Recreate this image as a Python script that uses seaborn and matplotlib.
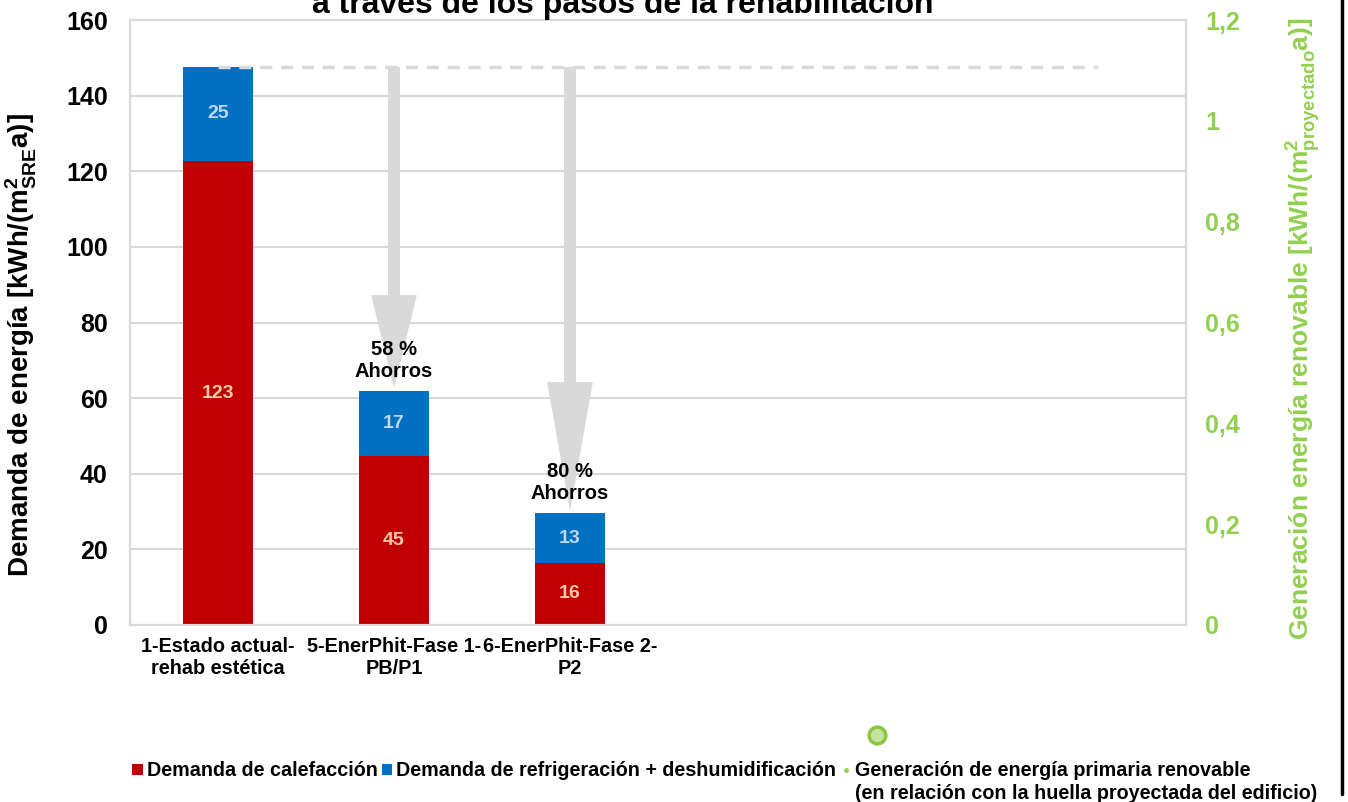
import matplotlib
matplotlib.use("Agg")
import matplotlib.pyplot as plt
import seaborn as sns
import pandas as pd
from matplotlib.lines import Line2D
from matplotlib.patches import Patch

# ---- data ----
categories = ["1-Estado actual-\nrehab estética", "5-EnerPhit-Fase 1-\nPB/P1", "6-EnerPhit-Fase 2-\nP2"]
heating = [122.7, 44.8, 16.4]
cooling = [24.9, 17.2, 13.2]
savings_labels = ["58 %\nAhorros", "80 %\nAhorros"]
left_ticks = [0, 20, 40, 60, 80, 100, 120, 140, 160]
right_ticks = [0, 0.2, 0.4, 0.6, 0.8, 1.0, 1.2]
right_tick_labels = ["0", "0,2", "0,4", "0,6", "0,8", "1", "1,2"]
n_slots = 6

RED = "#C00000"
BLUE = "#0070C0"
GREEN = "#92D050"
GRID = "#D9D9D9"

sns.set_theme(style="white")
plt.rcParams["font.family"] = ["Liberation Sans", "DejaVu Sans"]
plt.rcParams["font.weight"] = "bold"
plt.rcParams["text.color"] = "black"
plt.rcParams["axes.labelcolor"] = "black"
plt.rcParams["xtick.color"] = "black"
plt.rcParams["ytick.color"] = "black"
plt.rcParams["mathtext.fontset"] = "custom"
plt.rcParams["mathtext.rm"] = "Liberation Sans:bold"
plt.rcParams["mathtext.it"] = "Liberation Sans:bold"
plt.rcParams["mathtext.bf"] = "Liberation Sans:bold"
plt.rcParams["mathtext.sf"] = "Liberation Sans:bold"

fig = plt.figure(figsize=(13.48, 8.02), dpi=100)
ax = fig.add_axes([130 / 1348, 1 - 625 / 802, (1186 - 130) / 1348, (625 - 20) / 802])

totals = [h + c for h, c in zip(heating, cooling)]
df = pd.DataFrame({"cat": categories, "heating": heating, "cooling": cooling, "total": totals})

sns.barplot(data=df, x="cat", y="total", color=BLUE, saturation=1, width=0.4,
            linewidth=0, ax=ax, zorder=2)
sns.barplot(data=df, x="cat", y="heating", color=RED, saturation=1, width=0.4,
            linewidth=0, ax=ax, zorder=2)

ax.set_xlim(-0.5, n_slots - 0.5)
ax.set_ylim(0, 160)
ax.set_yticks(left_ticks)
ax.tick_params(axis="y", labelsize=18, length=0, pad=16, colors="black")
ax.tick_params(axis="x", labelsize=14.3, length=0, pad=9, colors="black")
for lab in ax.get_xticklabels() + ax.get_yticklabels():
    lab.set_fontweight("bold")
ax.set_xlabel("")
ax.set_ylabel(r"Demanda de energía [kWh/(m$^{2}_{\mathrm{SRE}}$a)]", fontsize=20,
              fontweight="bold", color="black")
ax.yaxis.set_label_coords(-0.086, 0.463)
ax.grid(axis="y", color=GRID, linewidth=1.5, zorder=0)
ax.set_axisbelow(True)
for s in ax.spines.values():
    s.set_color(GRID)
    s.set_linewidth(1.5)

# segment labels
for i, (h, c) in enumerate(zip(heating, cooling)):
    ax.text(i, h / 2, f"{h:.0f}", ha="center", va="center", color="#F8CBAD",
            fontsize=14, fontweight="bold", zorder=5)
    ax.text(i, h + c / 2, f"{c:.0f}", ha="center", va="center", color="#BDD7EE",
            fontsize=14, fontweight="bold", zorder=5)

# reference dashed line at the initial total
ref = totals[0]
ax.plot([0, 5], [ref, ref], color=GRID, linewidth=2.5, linestyle=(0, (3.5, 2.5)), zorder=3)

# savings arrows and labels
for i, lab in zip([1, 2], savings_labels):
    tip = totals[i] + 0.6
    length = ref - tip
    ax.arrow(i, ref, 0, -length, width=0.068, head_width=0.26, head_length=0.29 * length,
             length_includes_head=True, color=GRID, linewidth=0, zorder=2.5)
    ax.annotate(lab, xy=(i, totals[i]), xytext=(0, 7), textcoords="offset points",
                ha="center", va="bottom", fontsize=14.5, fontweight="bold",
                linespacing=1.2, zorder=6, color="black")

# secondary axis
ax2 = ax.twinx()
ax2.set_ylim(0, 1.2)
ax2.set_yticks(right_ticks)
ax2.set_yticklabels(right_tick_labels)
ax2.tick_params(axis="y", labelsize=18, length=0, pad=14, labelcolor=GREEN)
for lab in ax2.get_yticklabels():
    lab.set_fontweight("bold")
ax2.set_ylabel(r"Generación energía renovable [kWh/(m$^{2}_{\mathrm{proyectado}}$a)]",
               fontsize=19, fontweight="bold", color=GREEN)
ax2.yaxis.set_label_coords(1.093, 0.49)
for s in ax2.spines.values():
    s.set_color(GRID)
    s.set_linewidth(1.5)

# title (partly cut off at top, as in the source)
fig.text(623 / 1348, 1 - 13 / 802, "a través de los pasos de la rehabilitación",
         ha="center", va="baseline", fontsize=23, fontweight="bold")

# legend
handles = [Patch(facecolor=RED, edgecolor="none"),
           Patch(facecolor=BLUE, edgecolor="none"),
           Line2D([], [], marker="o", linestyle="none", color=GREEN, markersize=2.5)]
labels = ["Demanda de calefacción", "Demanda de refrigeración + deshumidificación",
          "Generación de energía primaria renovable"]
leg = fig.legend(handles, labels, loc="center left", bbox_to_anchor=(132 / 1348, 1 - 771 / 802),
                 ncol=3, frameon=False, prop={"size": 14.2, "weight": "bold"},
                 handlelength=0.55, handleheight=0.55, handletextpad=0.2,
                 columnspacing=0.2, borderpad=0, borderaxespad=0)

fig.canvas.draw()
t3 = leg.get_texts()[2]
bb = t3.get_window_extent().transformed(fig.transFigure.inverted())
fig.text(bb.x0, bb.y0 - 0.004, "(en relación con la huella proyectada del edificio)",
         ha="left", va="top", fontsize=14.2, fontweight="bold")

# green ring marker above legend entry
fig.add_artist(Line2D([877 / 1348], [1 - 735 / 802], transform=fig.transFigure,
                      marker="o", markersize=12, markerfacecolor="#C5E3A0",
                      markeredgecolor="#8CC63E", markeredgewidth=2.5, linestyle="none"))

# black frame line at right edge
fig.add_artist(Line2D([1342 / 1348, 1342 / 1348], [0.01, 1], transform=fig.transFigure,
                      color="black", linewidth=2.5))

fig.savefig("out.png", dpi=100)
